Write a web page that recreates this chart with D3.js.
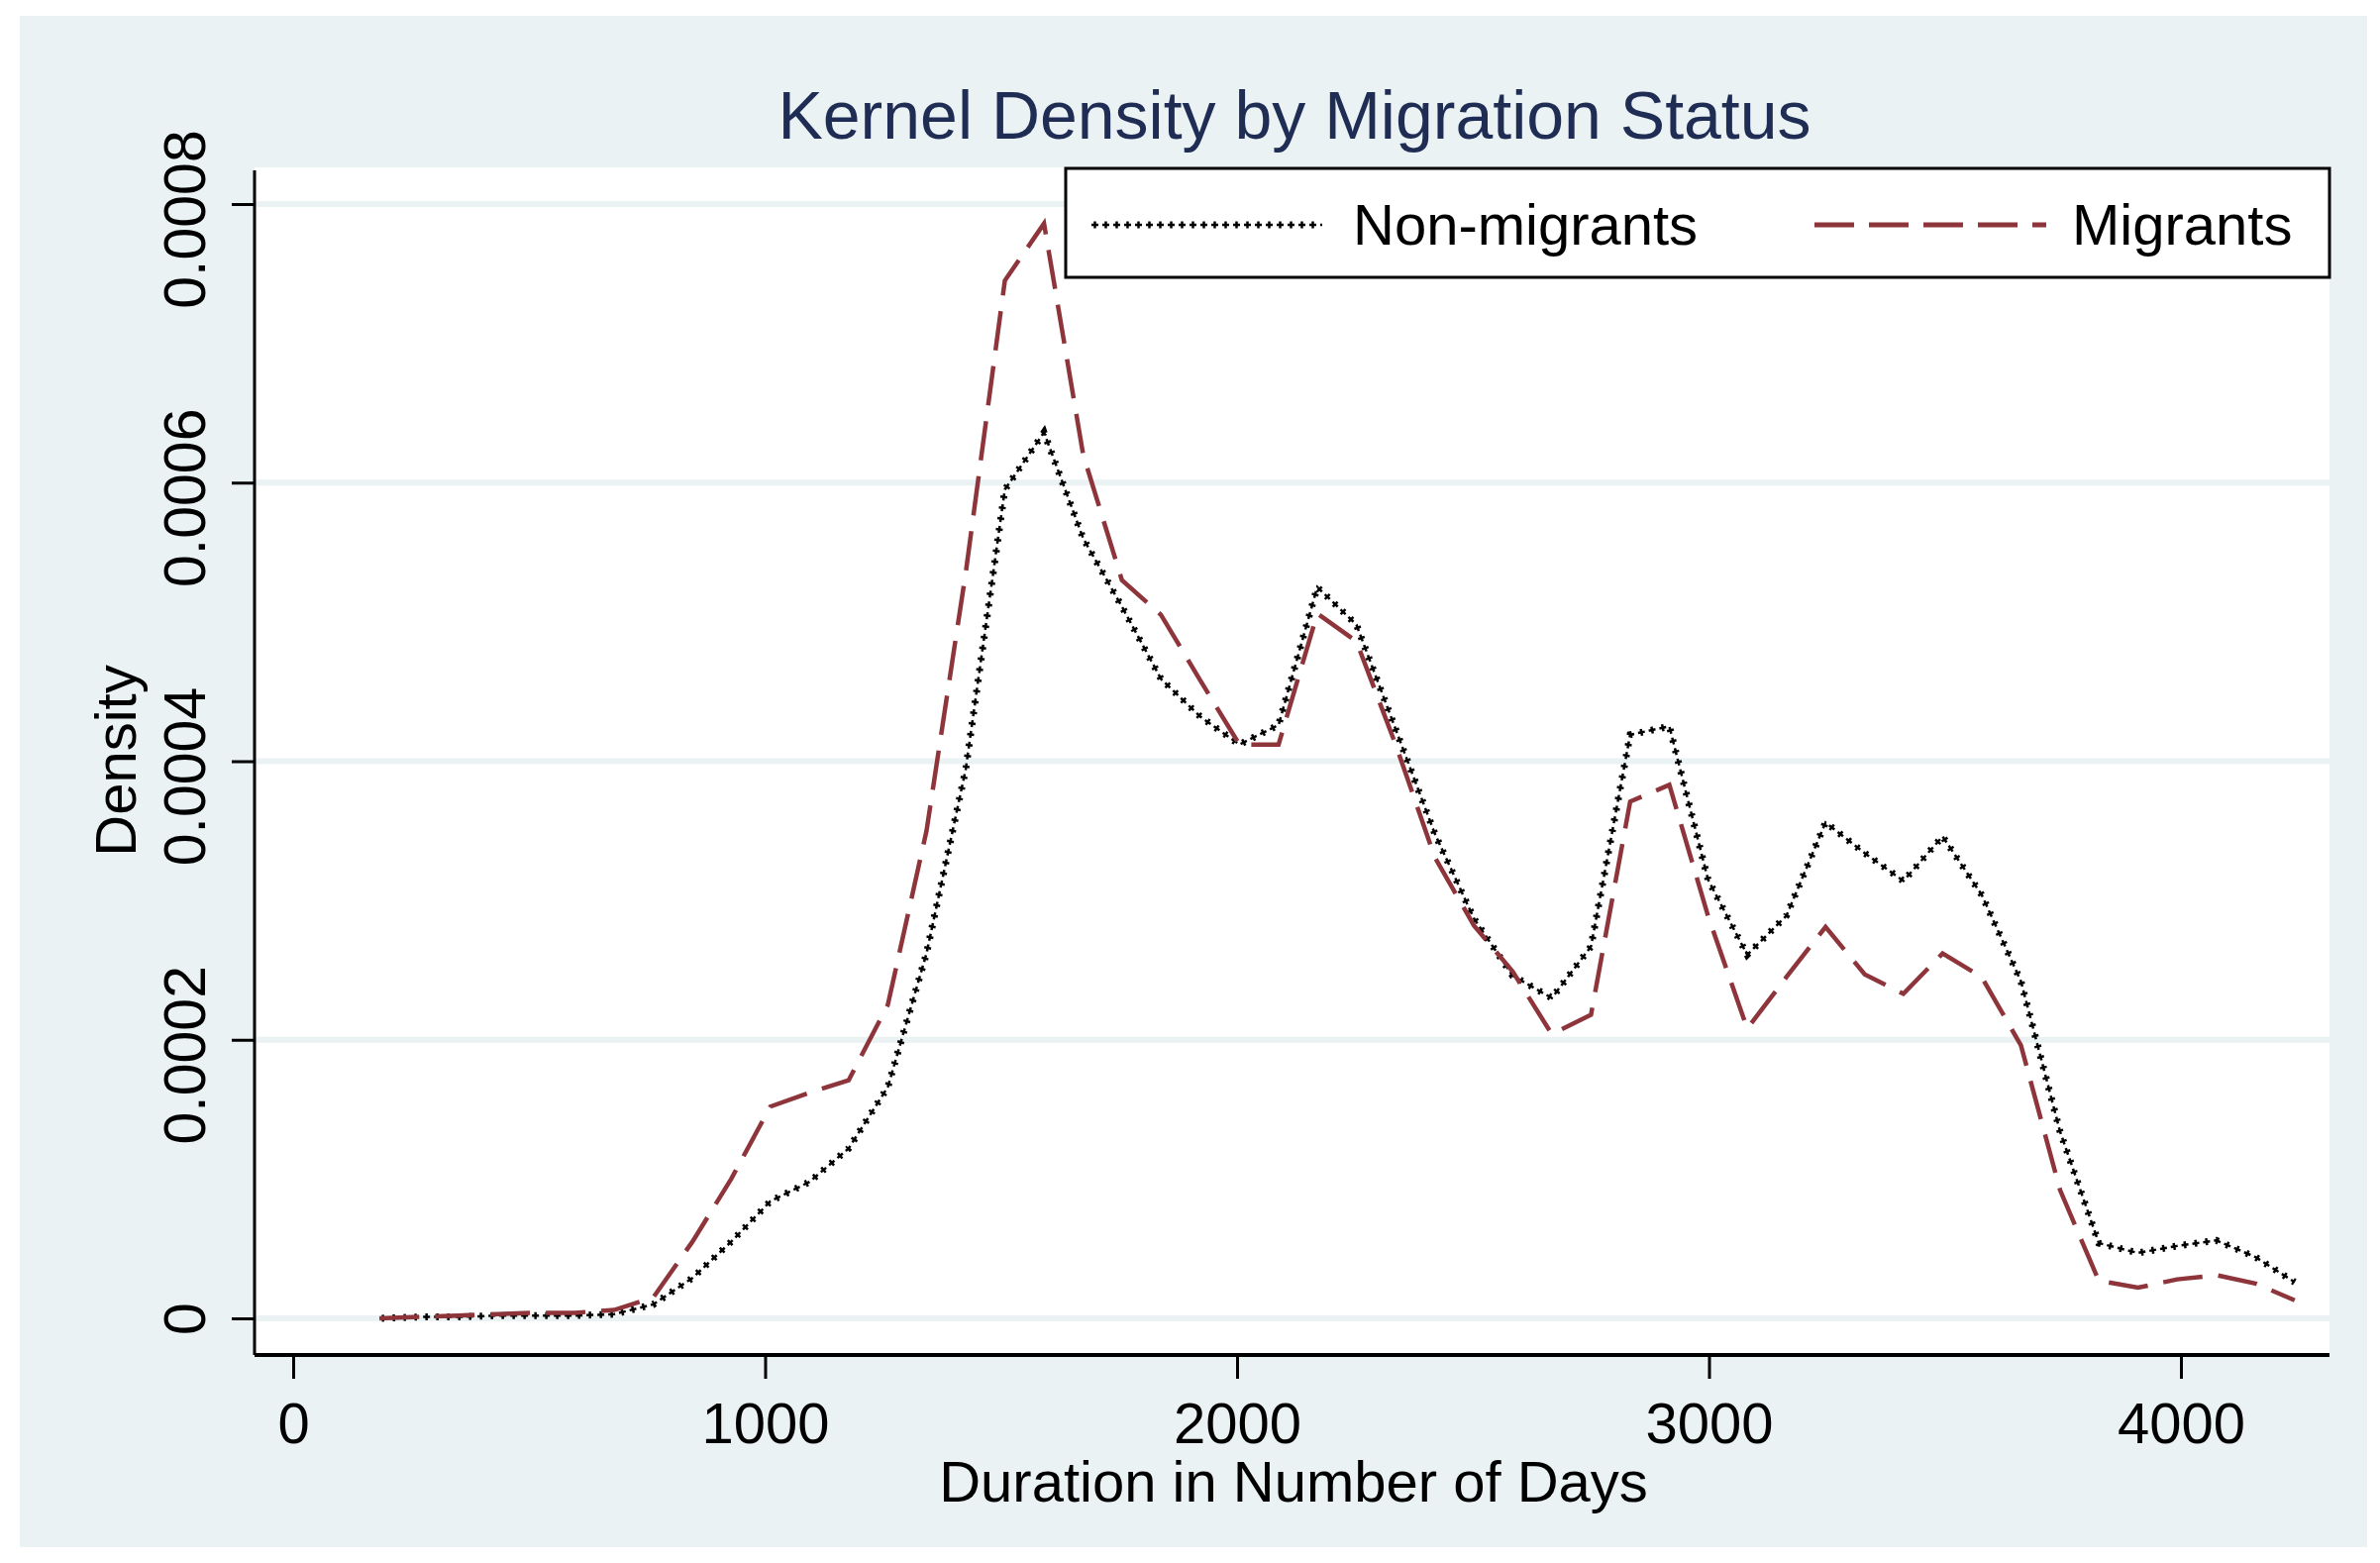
<!DOCTYPE html>
<html>
<head>
<meta charset="utf-8">
<script src="https://cdn.jsdelivr.net/npm/d3@7"></script>
<style>
  body { margin: 0; background: #ffffff; }
</style>
</head>
<body>
<script>
const width = 2403;
const height = 1578;

// evaluation points of the kernel density (days)
const days = [183, 266, 349, 432, 514, 597, 680, 763, 846, 928, 1011, 1094, 1177, 1260, 1342, 1425,
  1508, 1591, 1674, 1756, 1839, 1922, 2005, 2088, 2170, 2253, 2336, 2419, 2502, 2584, 2667, 2750,
  2833, 2916, 2998, 3081, 3164, 3247, 3330, 3412, 3495, 3578, 3661, 3744, 3826, 3909, 3992, 4075,
  4158, 4241];

const nonMigrants = [0, 0.000001, 0.000001, 0.000002, 0.000002, 0.000002, 0.000003, 0.00001, 0.000029,
  0.000055, 0.000084, 0.000098, 0.000122, 0.000166, 0.000262, 0.000394, 0.000595, 0.000636, 0.00056,
  0.000511, 0.000459, 0.000432, 0.000412, 0.000426, 0.000525, 0.000498, 0.000423, 0.000348, 0.000287,
  0.000246, 0.00023, 0.000267, 0.000419, 0.000425, 0.000315, 0.000261, 0.000289, 0.000356, 0.000334,
  0.000314, 0.000346, 0.000304, 0.000242, 0.000134, 0.000054, 0.000047, 0.000052, 0.000056, 0.000044,
  0.000026];

const migrants = [0, 0.000001, 0.000002, 0.000003, 0.000004, 0.000004, 0.000006, 0.000015, 0.000055,
  0.0001, 0.000152, 0.000162, 0.000171, 0.000225, 0.00035, 0.000535, 0.000745, 0.000786, 0.00062,
  0.00053, 0.000505, 0.000458, 0.000412, 0.000412, 0.000506, 0.000486, 0.000412, 0.000331, 0.000282,
  0.000249, 0.000204, 0.000218, 0.000371, 0.000383, 0.000289, 0.000208, 0.000245, 0.000281, 0.000247,
  0.000233, 0.000262, 0.000245, 0.000196, 0.000092, 0.000027, 0.000022, 0.000028, 0.000031, 0.000025,
  0.000013];

const xTicks = [0, 1000, 2000, 3000, 4000];
const yTicks = [0, 0.0002, 0.0004, 0.0006, 0.0008];
const yTickLabels = ["0", "0.0002", "0.0004", "0.0006", "0.0008"];
const seriesNames = ["Non-migrants", "Migrants"];

const bg = "#eaf2f3";
const maroon = "#8e353b";
const font = "'Liberation Sans', Arial, sans-serif";

// plot frame
const plot = { left: 257, top: 169, right: 2352, bottom: 1368 };

const svg = d3
  .select("body")
  .append("svg")
  .attr("width", width)
  .attr("height", height)
  .style("font-family", font);

svg.append("rect").attr("width", width).attr("height", height).attr("fill", "#ffffff");
svg
  .append("rect")
  .attr("x", 20)
  .attr("y", 16)
  .attr("width", 2370)
  .attr("height", 1546)
  .attr("fill", bg);

svg
  .append("rect")
  .attr("x", plot.left)
  .attr("y", plot.top)
  .attr("width", plot.right - plot.left)
  .attr("height", plot.bottom - plot.top)
  .attr("fill", "#ffffff");

const x = d3.scaleLinear().domain([0, 4000]).range([296, 2202]);
const y = d3.scaleLinear().domain([0, 0.0008]).range([1331, 206]);

// gridlines
svg
  .append("g")
  .selectAll("line")
  .data(yTicks)
  .enter()
  .append("line")
  .attr("x1", plot.left)
  .attr("x2", plot.right)
  .attr("y1", (d) => y(d))
  .attr("y2", (d) => y(d))
  .attr("stroke", bg)
  .attr("stroke-width", 6);

// y axis
const yAxis = svg
  .append("g")
  .attr("transform", `translate(${plot.left},0)`)
  .call(
    d3.axisLeft(y)
      .tickValues(yTicks)
      .tickSize(23)
      .tickFormat((d, i) => yTickLabels[i])
  );
yAxis.select(".domain").remove();
yAxis.selectAll(".tick line").attr("stroke", "#000").attr("stroke-width", 3);
yAxis
  .selectAll(".tick text")
  .attr("transform", "rotate(-90)")
  .attr("x", (d) => (d === 0 ? 0 : -15)) // long labels sit a bit low in the original
  .attr("y", -50)
  .attr("dy", 0)
  .attr("text-anchor", "middle")
  .attr("fill", "#000")
  .style("font-size", "59px")
  .style("font-family", font);

// x axis
const xAxis = svg
  .append("g")
  .attr("transform", `translate(0,${plot.bottom})`)
  .call(d3.axisBottom(x).tickValues(xTicks).tickSize(24).tickFormat(d3.format("d")));
xAxis.select(".domain").remove();
xAxis.selectAll(".tick line").attr("stroke", "#000").attr("stroke-width", 3);
xAxis
  .selectAll(".tick text")
  .attr("y", 89)
  .attr("dy", 0)
  .attr("fill", "#000")
  .style("font-size", "58px")
  .style("font-family", font);

// axis lines
svg
  .append("line")
  .attr("x1", plot.left)
  .attr("x2", plot.left)
  .attr("y1", plot.top + 3)
  .attr("y2", plot.bottom)
  .attr("stroke", "#000")
  .attr("stroke-width", 3);
svg
  .append("line")
  .attr("x1", plot.left)
  .attr("x2", plot.right)
  .attr("y1", plot.bottom)
  .attr("y2", plot.bottom)
  .attr("stroke", "#000")
  .attr("stroke-width", 4);

// density curves
const line = d3
  .line()
  .x((d) => x(d[0]))
  .y((d) => y(d[1]));

const nonMigData = days.map((d, i) => [d, nonMigrants[i]]);
const migData = days.map((d, i) => [d, migrants[i]]);

// dotted "+" style: two dash patterns on top of each other
function plusPath(sel) {
  sel.append("path")
    .attr("fill", "none")
    .attr("stroke", "#000")
    .attr("stroke-width", 2.5)
    .attr("stroke-dasharray", "7,4");
  sel.append("path")
    .attr("fill", "none")
    .attr("stroke", "#000")
    .attr("stroke-width", 7)
    .attr("stroke-dasharray", "2.5,8.5")
    .attr("stroke-dashoffset", -2.25);
}

const nonMigGroup = svg.append("g");
plusPath(nonMigGroup);
nonMigGroup.selectAll("path").attr("d", line(nonMigData));

svg
  .append("path")
  .attr("d", line(migData))
  .attr("fill", "none")
  .attr("stroke", maroon)
  .attr("stroke-width", 4.5)
  .attr("stroke-dasharray", "40,16");

// title
svg
  .append("text")
  .attr("x", 1307)
  .attr("y", 140)
  .attr("text-anchor", "middle")
  .attr("fill", "#1f2d55")
  .style("font-size", "68px")
  .text("Kernel Density by Migration Status");

// axis titles
svg
  .append("text")
  .attr("x", 1306)
  .attr("y", 1516)
  .attr("text-anchor", "middle")
  .attr("fill", "#000")
  .style("font-size", "58px")
  .text("Duration in Number of Days");

svg
  .append("text")
  .attr("transform", "translate(137,768) rotate(-90)")
  .attr("text-anchor", "middle")
  .attr("fill", "#000")
  .style("font-size", "58px")
  .text("Density");

// legend
const legend = svg.append("g");
legend
  .append("rect")
  .attr("x", 1076)
  .attr("y", 170)
  .attr("width", plot.right - 1076)
  .attr("height", 110)
  .attr("fill", "#ffffff")
  .attr("stroke", "#000")
  .attr("stroke-width", 3);

const legNon = legend.append("g");
plusPath(legNon);
legNon.selectAll("path").attr("d", "M1102,227L1335,227");

legend
  .append("line")
  .attr("x1", 1832)
  .attr("x2", 2066)
  .attr("y1", 227)
  .attr("y2", 227)
  .attr("stroke", maroon)
  .attr("stroke-width", 5)
  .attr("stroke-dasharray", "40,15");

legend
  .selectAll("text.leg")
  .data(seriesNames)
  .enter()
  .append("text")
  .attr("class", "leg")
  .attr("x", (d, i) => (i === 0 ? 1366 : 2092))
  .attr("y", 247)
  .attr("fill", "#000")
  .style("font-size", "58px")
  .text((d) => d);
</script>
</body>
</html>
